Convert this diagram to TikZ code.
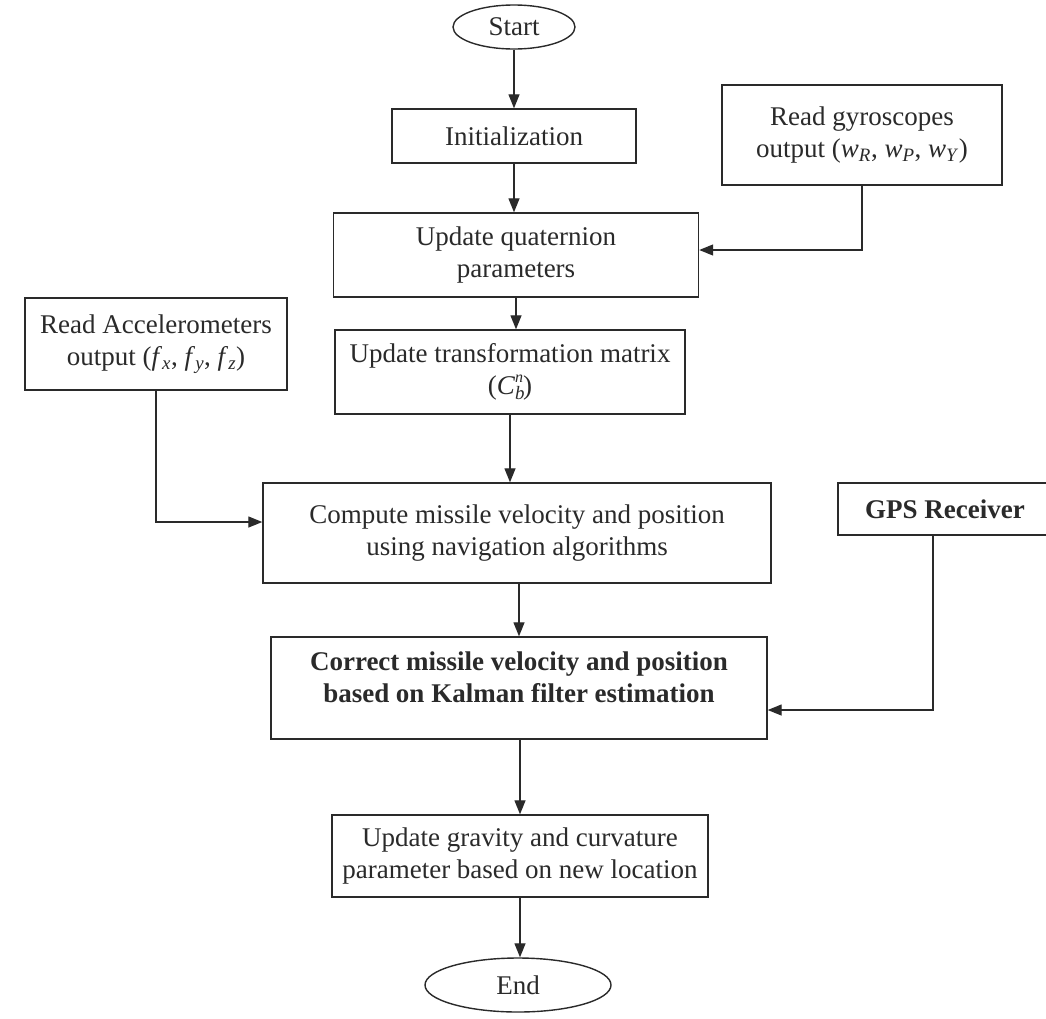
\documentclass[tikz,border=0pt]{standalone}
\usepackage{fontspec}
\setmainfont{Liberation Serif}
\usetikzlibrary{arrows.meta,shapes.geometric,calc}
\definecolor{ink}{HTML}{2A2A2A}
\begin{document}
\begin{tikzpicture}[x=1pt,y=-1pt,
  box/.style={draw=ink, line width=1.4pt, rectangle, align=center, inner sep=0pt,
    font=\fontsize{27}{32}\selectfont, text=ink},
  boldbox/.style={box, font=\fontsize{27}{32}\selectfont\bfseries},
  term/.style={box, ellipse},
  arr/.style={draw=ink, line width=1.3pt, -{Triangle[length=14pt,width=11pt]}}]
\fill[white] (0,0) rectangle (1046,1018);
\useasboundingbox (0,0) rectangle (1046,1018);

\node[term, minimum width=122pt, minimum height=44pt] (start) at (514,27) {Start};
\node[box, minimum width=244pt, minimum height=54pt] (init) at (514,136) {Initialization};
\node[box, minimum width=280pt, minimum height=100pt] (gyro) at (862,135)
  {Read gyroscopes\\output (\textit{w}\textsubscript{\textit{R}}, \textit{w}\textsubscript{\textit{P}}, \textit{w}\textsubscript{\textit{Y}})};
\node[box, minimum width=365pt, minimum height=84pt] (quat) at (516,255) {Update quaternion\\parameters};
\node[box, minimum width=350pt, minimum height=84pt] (trans) at (510,372)
  {Update transformation matrix\\(\textit{C}\makebox[0pt][l]{\textsubscript{\textit{b}}}\raisebox{12pt}{\fontsize{16}{16}\selectfont\textit{n}})};
\node[box, minimum width=262pt, minimum height=92pt] (acc) at (156,344)
  {Read Accelerometers\\output (\textit{f}\textsubscript{\textit{x}}, \textit{f}\textsubscript{\textit{y}}, \textit{f}\textsubscript{\textit{z}})};
\node[box, minimum width=508pt, minimum height=100pt] (comp) at (517,533)
  {Compute missile velocity and position\\using navigation algorithms};
\node[boldbox, minimum width=214pt, minimum height=52pt] (gps) at (945,509) {GPS Receiver};
\node[boldbox, minimum width=496pt, minimum height=102pt] (corr) at (519,688)
  {Correct missile velocity and position\\based on Kalman filter estimation\\[-10pt]\mbox{}};
\node[box, minimum width=376pt, minimum height=82pt] (grav) at (520,856)
  {Update gravity and curvature\\parameter based on new location};
\node[term, minimum width=186pt, minimum height=54pt] (end) at (518,985) {End};

\draw[arr] (start.south) -- (start.south |- init.north);
\draw[arr] (init.south) -- (init.south |- quat.north);
\draw[arr] (quat.south) -- (quat.south |- trans.north);
\draw[arr] (trans.south) -- (trans.south |- comp.north);
\draw[arr] (corr.north |- comp.south) -- (corr.north);
\draw[arr] (grav.north |- corr.south) -- (grav.north);
\draw[arr] (grav.south) -- (grav.south |- end.north);
\draw[arr] (gyro.south) |- ([yshift=5pt]quat.east);
\draw[arr] (acc.south) |- ([yshift=11pt]comp.west);
\draw[arr] ([xshift=-12pt]gps.south) |- ([yshift=-22pt]corr.east);
\end{tikzpicture}
\end{document}
